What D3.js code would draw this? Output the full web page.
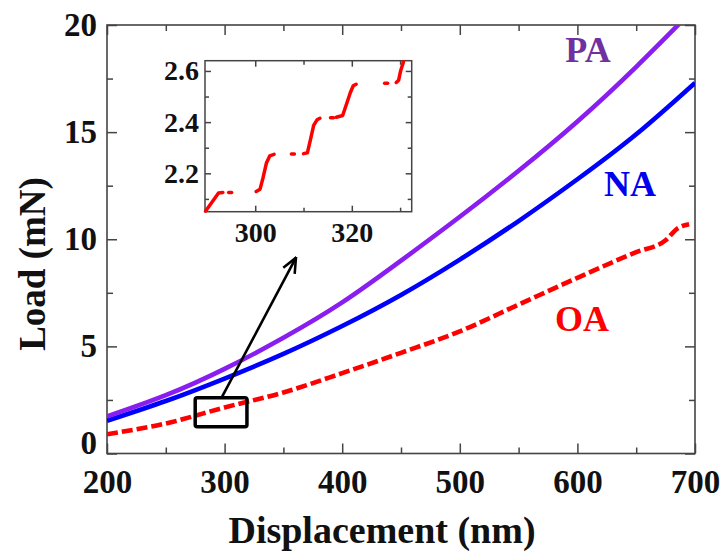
<!DOCTYPE html>
<html><head><meta charset="utf-8">
<script src="https://cdn.jsdelivr.net/npm/d3@7"></script>
<style>
html,body{margin:0;padding:0;background:#fff;}
text{font-family:"Liberation Serif","Times New Roman",serif;font-weight:bold;}
</style></head>
<body><svg id="c" width="722" height="555"></svg>
<script>
// ---- data ----
const paX   = [200,250,300,350,400,450,500,550,600,650,700];
const paLoad= [1.73,2.72,3.95,5.4,7.05,9.0,11.05,13.2,15.5,18.05,20.8];
const naX   = [200,250,300,350,400,450,500,550,600,650,700];
const naLoad= [1.53,2.45,3.5,4.65,5.95,7.4,9.05,10.85,12.8,14.9,17.3];
const oaX   = [200,250,300,350,400,450,500,550,600,650,675,685,695];
const oaLoad= [0.9,1.4,2.15,2.85,3.75,4.7,5.7,6.95,8.2,9.4,9.95,10.5,10.7];
const xTicks = [200,300,400,500,600,700];
const xMinor = [250,350,450,550,650];
const yTicks = [0,5,10,15,20];
const yMinor = [2.5,7.5,12.5,17.5];
const seriesNames = ["PA","NA","OA"];
// inset (OA zoom): segment id, displacement, load
const insetSeg = [0,0,0,0, 1, 2,2,2,2,2,2, 3, 4,4,4,4,4,4, 5, 6,6,6,6,6,6, 7, 8,8,8,8];
const insetX = [289.7,291.0,292.4,293.3, 294.8, 300.2,301.0,301.6,302.3,303.0,303.9, 307.8,
                310.0,310.8,311.4,312.1,312.8,313.4, 315.9, 316.8,318.1,318.8,319.7,320.3,320.9,
                327.1, 329.2,329.7,330.1,330.7];
const insetY = [2.052,2.086,2.123,2.125, 2.125, 2.129,2.138,2.181,2.239,2.268,2.274, 2.275,
                2.277,2.280,2.329,2.387,2.409,2.415, 2.417, 2.419,2.426,2.465,2.516,2.542,2.548,
                2.552, 2.555,2.564,2.600,2.636];
const insetXTicks = [300,320];
const insetXMinor = [310,330];
const insetYTicks = [2.2,2.4,2.6];
const insetYMinor = [2.1,2.3,2.5];
// zoom box & arrow (data coords)
const boxX = [275,319], boxY = [1.25,2.6];
const arrowFrom = [297.8,2.64], arrowTo = [360.7,9.14];

// ---- layout ----
const svg = d3.select("#c");
const L=107,R=695,T=25,B=453.5;
const x = d3.scaleLinear().domain([200,700]).range([L,R]);
const y = d3.scaleLinear().domain([0,20]).range([B,T]);
const axisCol="#444";

const defs = svg.append("defs");
defs.append("clipPath").attr("id","clipMain").append("rect")
  .attr("x",L).attr("y",T).attr("width",R-L).attr("height",B-T);
defs.append("marker").attr("id","ah").attr("viewBox","0 0 10 10").attr("refX",9.3).attr("refY",5)
  .attr("markerWidth",17).attr("markerHeight",17).attr("markerUnits","userSpaceOnUse").attr("orient","auto")
  .append("path").attr("d","M0.5,1.2 L9.3,5 L0.5,8.8").attr("fill","none").attr("stroke","#000")
  .attr("stroke-width",1.5).attr("stroke-linejoin","miter");

function styleAxis(g,font){
  g.select(".domain").remove();
  g.selectAll(".tick line").attr("stroke",axisCol).attr("stroke-width",1.5);
  g.selectAll(".tick text").attr("fill","#111").style("font-size",font+"px")
   .style("font-family","'Liberation Serif','Times New Roman',serif").style("font-weight","bold");
}
function box(g,l,r,t,b,sw){
  g.append("rect").attr("x",l).attr("y",t).attr("width",r-l).attr("height",b-t)
    .attr("fill","none").attr("stroke",axisCol).attr("stroke-width",sw);
}
// main axes
const gl = svg.append("g").attr("transform",`translate(${L},0)`)
  .call(d3.axisLeft(y).tickValues(yTicks).tickSize(-10).tickPadding(10).tickFormat(d3.format("d")));
styleAxis(gl,33);
gl.selectAll(".tick text").filter(d=>d===0).attr("dy","0.0em");
styleAxis(svg.append("g").attr("transform",`translate(${L},0)`)
  .call(d3.axisLeft(y).tickValues(yMinor).tickSize(-6).tickFormat("")),33);
styleAxis(svg.append("g").attr("transform",`translate(${R},0)`)
  .call(d3.axisRight(y).tickValues(yTicks).tickSize(-10).tickFormat("")),33);
styleAxis(svg.append("g").attr("transform",`translate(${R},0)`)
  .call(d3.axisRight(y).tickValues(yMinor).tickSize(-6).tickFormat("")),33);
const gb = svg.append("g").attr("transform",`translate(0,${B})`)
  .call(d3.axisBottom(x).tickValues(xTicks).tickSize(-10).tickPadding(16).tickFormat(d3.format("d")));
styleAxis(gb,33);
styleAxis(svg.append("g").attr("transform",`translate(0,${B})`)
  .call(d3.axisBottom(x).tickValues(xMinor).tickSize(-6).tickFormat("")),33);
styleAxis(svg.append("g").attr("transform",`translate(0,${T})`)
  .call(d3.axisTop(x).tickValues(xTicks).tickSize(-10).tickFormat("")),33);
styleAxis(svg.append("g").attr("transform",`translate(0,${T})`)
  .call(d3.axisTop(x).tickValues(xMinor).tickSize(-6).tickFormat("")),33);
box(svg,L,R,T,B,1.6);

// titles
svg.append("text").attr("x",382).attr("y",543).attr("text-anchor","middle")
  .style("font-size","38px").attr("fill","#111").text("Displacement (nm)");
svg.append("text").attr("transform","translate(45,264) rotate(-90)").attr("text-anchor","middle")
  .style("font-size","37px").attr("fill","#111").text("Load (mN)");

// curves
const smooth = d3.line().x(d=>x(d[0])).y(d=>y(d[1])).curve(d3.curveNatural);
const mono = d3.line().x(d=>x(d[0])).y(d=>y(d[1])).curve(d3.curveMonotoneX);
const plot = svg.append("g").attr("clip-path","url(#clipMain)");
plot.append("path").datum(oaX.map((v,i)=>[v,oaLoad[i]])).attr("d",mono)
  .attr("fill","none").attr("stroke","#ff0000").attr("stroke-width",4.6).attr("stroke-dasharray","11,4");
plot.append("path").datum(naX.map((v,i)=>[v,naLoad[i]])).attr("d",smooth)
  .attr("fill","none").attr("stroke","#0000ff").attr("stroke-width",4.6);
plot.append("path").datum(paX.map((v,i)=>[v,paLoad[i]])).attr("d",smooth)
  .attr("fill","none").attr("stroke","#8a1ef0").attr("stroke-width",4.6);

// labels
svg.append("text").attr("x",588).attr("y",62).attr("text-anchor","middle").style("font-size","36px")
  .attr("fill","#7030a0").text(seriesNames[0]);
svg.append("text").attr("x",630).attr("y",196).attr("text-anchor","middle").style("font-size","36px")
  .attr("fill","#0000ee").text(seriesNames[1]);
svg.append("text").attr("x",582).attr("y",331).attr("text-anchor","middle").style("font-size","36px")
  .attr("fill","#ff0000").text(seriesNames[2]);

// zoom box and arrow
svg.append("rect").attr("x",x(boxX[0])).attr("y",y(boxY[1]))
  .attr("width",x(boxX[1])-x(boxX[0])).attr("height",y(boxY[0])-y(boxY[1]))
  .attr("rx",2).attr("fill","none").attr("stroke","#000").attr("stroke-width",3.5);
svg.append("line").attr("x1",x(arrowFrom[0])).attr("y1",y(arrowFrom[1]))
  .attr("x2",x(arrowTo[0])).attr("y2",y(arrowTo[1]))
  .attr("stroke","#000").attr("stroke-width",2.6).attr("marker-end","url(#ah)");

// ---- inset ----
const iL=205,iR=411.7,iT=60.7,iB=211.7;
const ix = d3.scaleLinear().domain([289.6,332.4]).range([iL,iR]);
const iy = d3.scaleLinear().domain([2.05,2.64]).range([iB,iT]);
const ins = svg.append("g");
ins.append("rect").attr("x",iL).attr("y",iT).attr("width",iR-iL).attr("height",iB-iT).attr("fill","#fff");
styleAxis(ins.append("g").attr("transform",`translate(${iL},0)`)
  .call(d3.axisLeft(iy).tickValues(insetYTicks).tickSize(-6).tickPadding(6).tickFormat(d3.format(".1f"))),28);
styleAxis(ins.append("g").attr("transform",`translate(${iL},0)`)
  .call(d3.axisLeft(iy).tickValues(insetYMinor).tickSize(-4).tickFormat("")),28);
styleAxis(ins.append("g").attr("transform",`translate(${iR},0)`)
  .call(d3.axisRight(iy).tickValues(insetYTicks).tickSize(-6).tickFormat("")),28);
styleAxis(ins.append("g").attr("transform",`translate(${iR},0)`)
  .call(d3.axisRight(iy).tickValues(insetYMinor).tickSize(-4).tickFormat("")),28);
styleAxis(ins.append("g").attr("transform",`translate(0,${iB})`)
  .call(d3.axisBottom(ix).tickValues(insetXTicks).tickSize(-6).tickPadding(10).tickFormat(d3.format("d"))),28);
styleAxis(ins.append("g").attr("transform",`translate(0,${iB})`)
  .call(d3.axisBottom(ix).tickValues(insetXMinor).tickSize(-4).tickFormat("")),28);
styleAxis(ins.append("g").attr("transform",`translate(0,${iT})`)
  .call(d3.axisTop(ix).tickValues(insetXTicks).tickSize(-6).tickFormat("")),28);
styleAxis(ins.append("g").attr("transform",`translate(0,${iT})`)
  .call(d3.axisTop(ix).tickValues(insetXMinor).tickSize(-4).tickFormat("")),28);
box(ins,iL,iR,iT,iB,1.5);

const segs = d3.groups(insetX.map((v,i)=>({s:insetSeg[i],x:v,y:insetY[i]})), d=>d.s);
const iline = d3.line().x(d=>ix(d.x)).y(d=>iy(d.y));
ins.selectAll("path.seg").data(segs).join("path").attr("class","seg")
  .attr("d",d=> d[1].length>1 ? iline(d[1]) : `M${ix(d[1][0].x)-1.5},${iy(d[1][0].y)}h3`)
  .attr("fill","none").attr("stroke","#ff0000").attr("stroke-width",3.5)
  .attr("stroke-linecap","round").attr("stroke-linejoin","round");
</script></body></html>
